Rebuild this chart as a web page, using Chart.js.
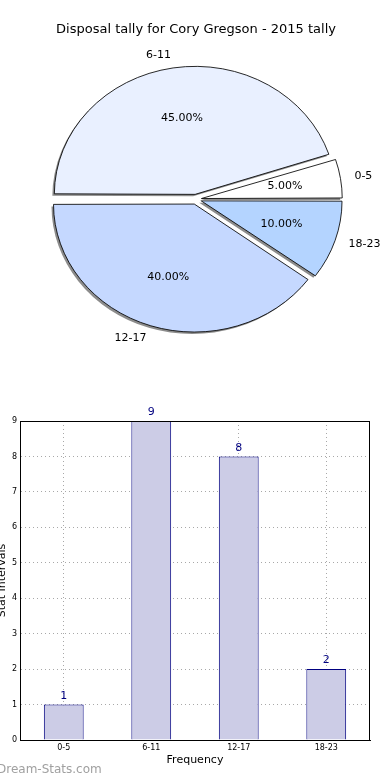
<!DOCTYPE html>
<html>
<head>
<meta charset="utf-8">
<script src="https://cdn.jsdelivr.net/npm/chart.js@4.4.1/dist/chart.umd.min.js"></script>
<style>
  body { margin: 0; background: #fff; width: 390px; height: 780px; overflow: hidden; position: relative; font-family: "DejaVu Sans", sans-serif; }
  #pieWrap { position: absolute; left: 0; top: 0; width: 390px; height: 380px; }
  #barWrap { position: absolute; left: -4px; top: 380px; width: 390px; height: 400px; }
  #mark { position: absolute; left: -3px; top: 762px; font: 12px "DejaVu Sans", sans-serif; color: #a0a0a0; }
</style>
</head>
<body>
<div id="pieWrap"><canvas id="pieChart"></canvas></div>
<div id="barWrap"><canvas id="barChart"></canvas></div>
<div id="mark">Dream-Stats.com</div>
<script>
// --- DATA ---
const categories = ['0-5', '6-11', '12-17', '18-23'];
const counts = [1, 9, 8, 2];
const percents = [5, 45, 40, 10];
const sliceColors = ['#ffffff', '#e9f0ff', '#c5d8ff', '#b4d4ff'];
const yTicks = [0, 1, 2, 3, 4, 5, 6, 7, 8, 9];

const FONT = 'DejaVu Sans';
const STRETCH_X = 1.1;   // pie is a bit wider than tall
const PIE_R = 128;
const EXPLODE = 5;       // px each slice is pushed out

// Chart.js draws clockwise from the top, the original goes counter-clockwise from east,
// so feed the slices in reverse order and start at 90deg
const pieOrder = [3, 2, 1, 0];

// --- PIE HELPERS ---
function arcFix(arc) {
    return 1 - Math.sin(Math.min(Math.PI, arc.endAngle - arc.startAngle));
}

let plainStroke = null;

const ellipsePlugin = {
    id: 'ellipse',
    beforeDatasetsDraw(chart) {
        const ctx = chart.ctx;
        const meta = chart.getDatasetMeta(0);
        const ctrl = meta.controller;
        // 'offset' also grows the radius a bit, take that back so all slices match
        meta.data.forEach(arc => {
            arc.outerRadius = ctrl.outerRadius - EXPLODE * arcFix(arc);
        });
        const cx = meta.data[0].x, cy = meta.data[0].y;
        ctx.save();
        ctx.translate(cx, cy);
        ctx.scale(STRETCH_X, 1);
        ctx.translate(-cx, -cy);
        ctx.shadowColor = '#8c8c8c';
        ctx.shadowOffsetX = -2;
        ctx.shadowOffsetY = 2;
        ctx.shadowBlur = 0;
        // shadow only under the fills, not the outlines
        plainStroke = ctx.stroke;
        ctx.stroke = function () {
            const c = this.shadowColor;
            this.shadowColor = 'rgba(0,0,0,0)';
            plainStroke.apply(this, arguments);
            this.shadowColor = c;
        };
    },
    afterDatasetsDraw(chart) {
        const ctx = chart.ctx;
        delete ctx.stroke;
        ctx.restore();
        const meta = chart.getDatasetMeta(0);
        const ctrl = meta.controller;
        ctx.save();
        ctx.fillStyle = '#000';
        ctx.font = '11px "' + FONT + '"';
        ctx.textBaseline = 'middle';
        meta.data.forEach((arc, i) => {
            const k = pieOrder[i];
            const mid = (arc.startAngle + arc.endAngle) / 2;
            const cx = arc.x, cy = arc.y;
            const R = ctrl.outerRadius;
            // percentage inside
            const rIn = R * 0.6 + EXPLODE;
            ctx.textAlign = 'center';
            ctx.fillText(percents[k].toFixed(2) + '%', cx + Math.cos(mid) * rIn * STRETCH_X, cy + Math.sin(mid) * rIn);
            // category outside
            const rOut = R * 1.1 + EXPLODE;
            const lx = cx + Math.cos(mid) * rOut * STRETCH_X;
            ctx.textAlign = Math.cos(mid) < 0 ? 'right' : 'left';
            ctx.fillText(categories[k], lx, cy + Math.sin(mid) * rOut);
        });
        ctx.restore();
    }
};

// --- PIE CHART ---
const pieChart = new Chart(document.getElementById('pieChart'), {
    type: 'pie',
    data: {
        labels: pieOrder.map(i => categories[i]),
        datasets: [{
            data: pieOrder.map(i => percents[i]),
            backgroundColor: pieOrder.map(i => sliceColors[i]),
            borderColor: '#000',
            borderWidth: 0.8,
            offset: EXPLODE * 4   // Chart.js moves the arc by offset/4
        }]
    },
    options: {
        responsive: true,
        maintainAspectRatio: false,
        animation: false,
        rotation: 90,
        radius: PIE_R,
        layout: { padding: { left: 2, right: 0, top: 0, bottom: 19 } },
        plugins: {
            legend: { display: false },
            tooltip: { enabled: false },
            title: {
                display: true,
                text: 'Disposal tally for Cory Gregson - 2015 tally',
                color: '#000',
                font: { family: FONT, size: 13, weight: 'normal' },
                padding: { top: 22, bottom: 0 }
            }
        }
    },
    plugins: [ellipsePlugin]
});

// --- BAR CHART ---
const barExtras = {
    id: 'barExtras',
    afterDraw(chart) {
        const ctx = chart.ctx;
        const a = chart.chartArea;
        ctx.save();
        ctx.strokeStyle = '#000';
        ctx.lineWidth = 1;
        ctx.strokeRect(Math.round(a.left) + 0.5, Math.round(a.top) + 0.5, Math.round(a.right - a.left) - 1, Math.round(a.bottom - a.top));
        // counts above the bars
        const meta = chart.getDatasetMeta(0);
        ctx.fillStyle = '#000080';
        ctx.font = '11px "' + FONT + '"';
        ctx.textAlign = 'center';
        ctx.textBaseline = 'bottom';
        meta.data.forEach((bar, i) => {
            ctx.fillText(String(counts[i]), bar.x, bar.y - 3);
        });
        ctx.restore();
    }
};

const gridLook = { color: '#a8a8a8', lineWidth: 1, drawTicks: false };
const dotted = { display: true, color: '#000', width: 1, dash: [1, 3] };

const barChart = new Chart(document.getElementById('barChart'), {
    type: 'bar',
    data: {
        labels: categories,
        datasets: [{
            data: counts,
            backgroundColor: '#ccccE6',
            borderColor: '#000080',
            borderWidth: 1,
            categoryPercentage: 1,
            barPercentage: 0.455
        }]
    },
    options: {
        responsive: true,
        maintainAspectRatio: false,
        animation: false,
        layout: { padding: { left: 0, right: 16, top: 41, bottom: 13 } },
        plugins: {
            legend: { display: false },
            tooltip: { enabled: false }
        },
        scales: {
            x: {
                z: 1,
                grid: Object.assign({ offset: false }, gridLook),
                border: dotted,
                ticks: { color: '#000', padding: 3, font: { family: FONT, size: 8 } },
                title: { display: true, text: 'Frequency', color: '#000', font: { family: FONT, size: 11 }, padding: 0 },
                afterFit(scale) { scale.height = 27; }
            },
            y: {
                z: 1,
                min: 0,
                max: 9,
                afterBuildTicks(scale) { scale.ticks = yTicks.map(v => ({ value: v })); },
                grid: gridLook,
                border: dotted,
                ticks: { color: '#000', padding: 3, font: { family: FONT, size: 8 } },
                title: { display: true, text: 'Stat Intervals', color: '#000', font: { family: FONT, size: 11 }, padding: 0 },
                afterFit(scale) { scale.width = 24; }
            }
        }
    },
    plugins: [barExtras]
});
</script>
</body>
</html>
